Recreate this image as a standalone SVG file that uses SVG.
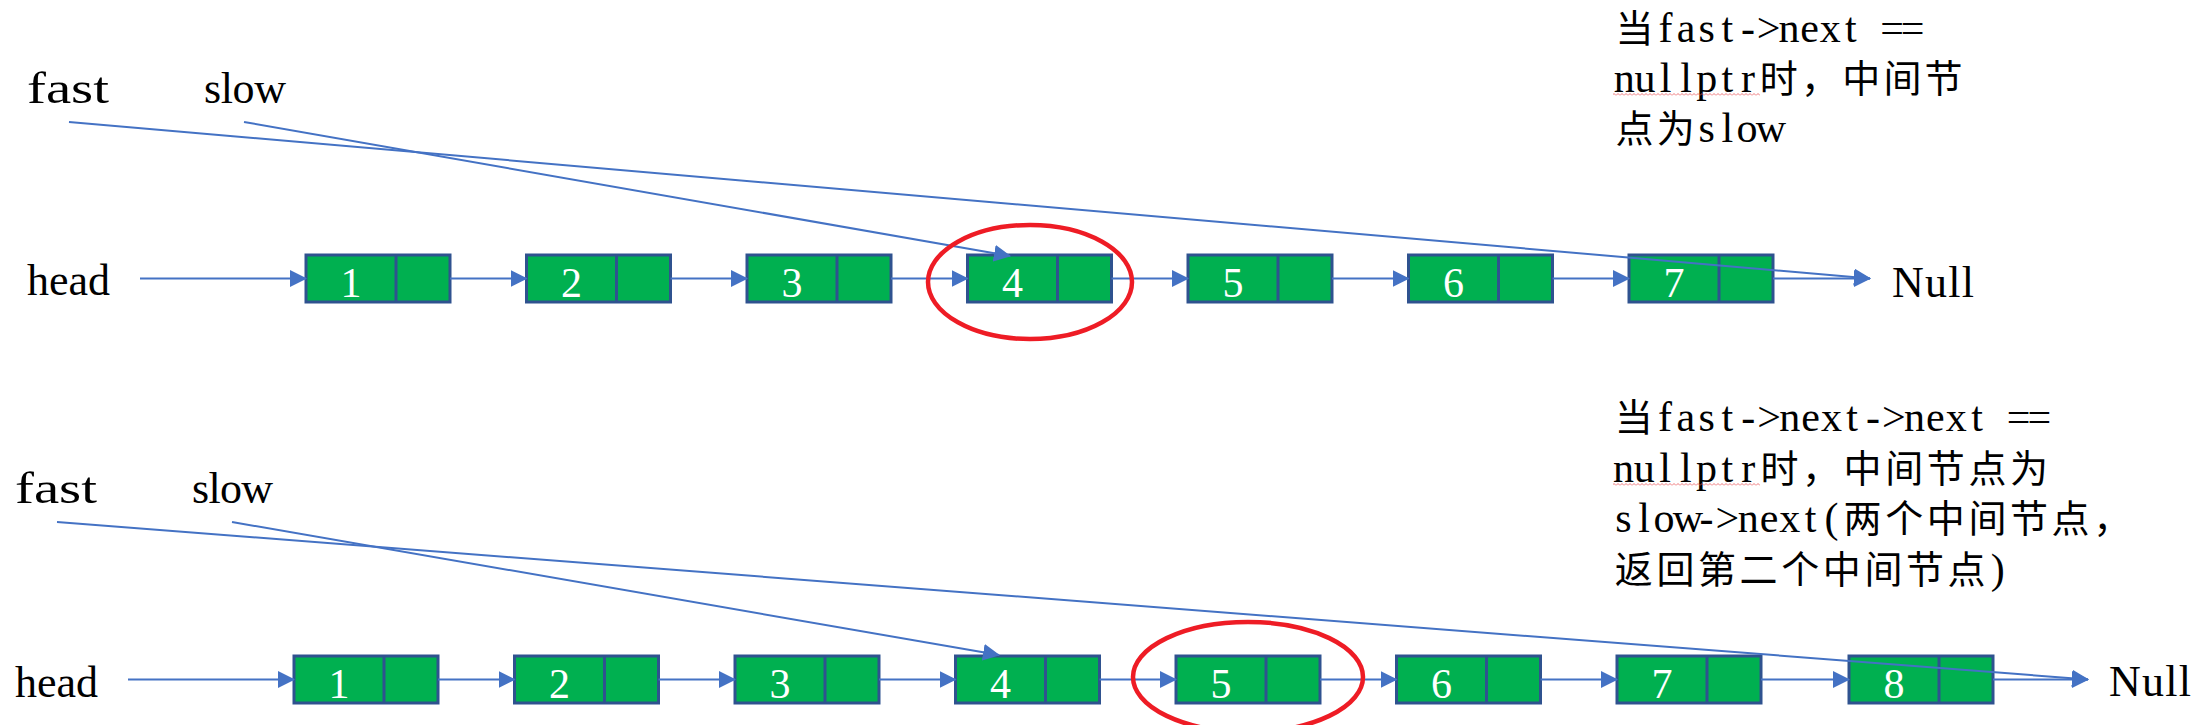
<svg xmlns="http://www.w3.org/2000/svg" width="2197" height="725" viewBox="0 0 2197 725">
<style>
.cell{fill:#00B050;stroke:#2F528F;stroke-width:3}
.dv{stroke:#2F528F;stroke-width:3}
.num{font-family:"Liberation Serif",serif;font-size:42px;fill:#fff;text-anchor:middle}
.lbl{font-family:"Liberation Serif",serif;font-size:44px;fill:#000}
.note{font-family:"Liberation Serif","Noto Sans CJK SC",serif;font-size:38px;fill:#000;text-anchor:middle}
.lat{font-size:42px}
.conn{stroke:#4472C4;stroke-width:2;fill:none;marker-end:url(#ah)}
.ring{fill:none;stroke:#EE1C25;stroke-width:4.5}
</style>
<defs>
<marker id="ah" markerUnits="userSpaceOnUse" markerWidth="17" markerHeight="17" viewBox="0 0 17 17" refX="16" refY="8.5" orient="auto">
<path d="M0,0 L17,8.5 L0,17 z" fill="#4472C4"/>
</marker>
<pattern id="squig" patternUnits="userSpaceOnUse" x="0" y="0" width="4" height="3">
<path d="M0,2.5 L2,0.5 L4,2.5" fill="none" stroke="#E8555A" stroke-width="0.8"/>
</pattern>
</defs>
<rect width="2197" height="725" fill="#fff"/>

<!-- labels top -->
<g id="labels-top">
<text class="lbl" x="27" y="103" textLength="82" lengthAdjust="spacingAndGlyphs">fast</text>
<text class="lbl" x="204" y="103" textLength="82">slow</text>
<text class="lbl" x="27" y="295" textLength="83">head</text>
<text class="lbl" x="1892" y="297" textLength="82">Null</text>
</g>
<g id="note-top">
<text class="note" y="42" x="1634.6 1665.5 1686.1 1706.7 1727.3 1747.9 1768.5 1789.1 1809.7 1830.3 1850.9 1871.5 1892.1 1912.7">当<tspan class="lat">fast-&gt;next ==</tspan></text>
<text class="note" y="92" x="1624.3 1644.9 1665.5 1686.1 1706.7 1727.3 1747.9 1778.8 1820.0 1861.2 1902.4 1943.6"><tspan class="lat">nullptr</tspan>时，中间节</text>
<text class="note" y="142" x="1634.6 1675.8 1706.7 1727.3 1747.0 1771.0">点为<tspan class="lat">slow</tspan></text>
<rect x="1613" y="93" width="147" height="3" fill="url(#squig)"/>
</g>

<!-- labels bottom -->
<g id="labels-bottom">
<text class="lbl" x="15" y="503" textLength="82" lengthAdjust="spacingAndGlyphs">fast</text>
<text class="lbl" x="192" y="503" textLength="81">slow</text>
<text class="lbl" x="15" y="697" textLength="83">head</text>
<text class="lbl" x="2109" y="696" textLength="82">Null</text>
</g>
<g id="note-bottom">
<text class="note" y="431" x="1633.8 1665.0 1685.8 1706.6 1727.4 1748.2 1769.0 1789.8 1810.6 1831.4 1852.2 1873.0 1893.8 1914.6 1935.4 1956.2 1977.0 1997.8 2018.6 2039.4">当<tspan class="lat">fast-&gt;next-&gt;next ==</tspan></text>
<text class="note" y="481.5" x="1623.4 1644.2 1665.0 1685.8 1706.6 1727.4 1748.2 1779.4 1821.0 1862.6 1904.2 1945.8 1987.4 2029.0"><tspan class="lat">nullptr</tspan>时，中间节点为</text>
<text class="note" y="532" x="1623.4 1644.2 1664.0 1688.0 1706.6 1727.4 1748.2 1769.0 1789.8 1810.6 1831.4 1862.6 1904.2 1945.8 1987.4 2029.0 2070.6 2112.2"><tspan class="lat">slow-&gt;next(</tspan>两个中间节点，</text>
<text class="note" y="582.5" x="1633.8 1675.4 1717.0 1758.6 1800.2 1841.8 1883.4 1925.0 1966.6 1997.8">返回第二个中间节点<tspan class="lat">)</tspan></text>
<rect x="1613" y="483" width="147" height="3" fill="url(#squig)"/>
</g>

<!-- top list nodes -->
<g id="t1"><rect class="cell" x="306" y="255" width="144" height="47"/><line class="dv" x1="396" y1="255" x2="396" y2="302"/><text class="num" x="351" y="297">1</text></g>
<g id="t2"><rect class="cell" x="526.5" y="255" width="144" height="47"/><line class="dv" x1="616.5" y1="255" x2="616.5" y2="302"/><text class="num" x="571.5" y="297">2</text></g>
<g id="t3"><rect class="cell" x="747" y="255" width="144" height="47"/><line class="dv" x1="837" y1="255" x2="837" y2="302"/><text class="num" x="792" y="297">3</text></g>
<g id="t4"><rect class="cell" x="967.5" y="255" width="144" height="47"/><line class="dv" x1="1057.5" y1="255" x2="1057.5" y2="302"/><text class="num" x="1012.5" y="297">4</text></g>
<g id="t5"><rect class="cell" x="1188" y="255" width="144" height="47"/><line class="dv" x1="1278" y1="255" x2="1278" y2="302"/><text class="num" x="1233" y="297">5</text></g>
<g id="t6"><rect class="cell" x="1408.5" y="255" width="144" height="47"/><line class="dv" x1="1498.5" y1="255" x2="1498.5" y2="302"/><text class="num" x="1453.5" y="297">6</text></g>
<g id="t7"><rect class="cell" x="1629" y="255" width="144" height="47"/><line class="dv" x1="1719" y1="255" x2="1719" y2="302"/><text class="num" x="1674" y="297">7</text></g>

<!-- bottom list nodes -->
<g id="b1"><rect class="cell" x="294" y="656" width="144" height="47"/><line class="dv" x1="384" y1="656" x2="384" y2="703"/><text class="num" x="339" y="698">1</text></g>
<g id="b2"><rect class="cell" x="514.5" y="656" width="144" height="47"/><line class="dv" x1="604.5" y1="656" x2="604.5" y2="703"/><text class="num" x="559.5" y="698">2</text></g>
<g id="b3"><rect class="cell" x="735" y="656" width="144" height="47"/><line class="dv" x1="825" y1="656" x2="825" y2="703"/><text class="num" x="780" y="698">3</text></g>
<g id="b4"><rect class="cell" x="955.5" y="656" width="144" height="47"/><line class="dv" x1="1045.5" y1="656" x2="1045.5" y2="703"/><text class="num" x="1000.5" y="698">4</text></g>
<g id="b5"><rect class="cell" x="1176" y="656" width="144" height="47"/><line class="dv" x1="1266" y1="656" x2="1266" y2="703"/><text class="num" x="1221" y="698">5</text></g>
<g id="b6"><rect class="cell" x="1396.5" y="656" width="144" height="47"/><line class="dv" x1="1486.5" y1="656" x2="1486.5" y2="703"/><text class="num" x="1441.5" y="698">6</text></g>
<g id="b7"><rect class="cell" x="1617" y="656" width="144" height="47"/><line class="dv" x1="1707" y1="656" x2="1707" y2="703"/><text class="num" x="1662" y="698">7</text></g>
<g id="b8"><rect class="cell" x="1849" y="656" width="144" height="47"/><line class="dv" x1="1939" y1="656" x2="1939" y2="703"/><text class="num" x="1894" y="698">8</text></g>

<!-- connectors -->
<g id="connectors">
<line class="conn" x1="140" y1="278.5" x2="306" y2="278.5"/>
<line class="conn" x1="450" y1="278.5" x2="526.5" y2="278.5"/>
<line class="conn" x1="670.5" y1="278.5" x2="747" y2="278.5"/>
<line class="conn" x1="891" y1="278.5" x2="967.5" y2="278.5"/>
<line class="conn" x1="1111.5" y1="278.5" x2="1188" y2="278.5"/>
<line class="conn" x1="1332" y1="278.5" x2="1408.5" y2="278.5"/>
<line class="conn" x1="1552.5" y1="278.5" x2="1629" y2="278.5"/>
<line class="conn" x1="1773" y1="278.5" x2="1870" y2="278.5"/>
<line class="conn" x1="244" y1="122" x2="1010" y2="256"/>
<line class="conn" x1="69" y1="122" x2="1870" y2="278.5"/>

<line class="conn" x1="128" y1="679.5" x2="294" y2="679.5"/>
<line class="conn" x1="438" y1="679.5" x2="514.5" y2="679.5"/>
<line class="conn" x1="658.5" y1="679.5" x2="735" y2="679.5"/>
<line class="conn" x1="879" y1="679.5" x2="955.5" y2="679.5"/>
<line class="conn" x1="1099.5" y1="679.5" x2="1176" y2="679.5"/>
<line class="conn" x1="1320" y1="679.5" x2="1396.5" y2="679.5"/>
<line class="conn" x1="1540.5" y1="679.5" x2="1617" y2="679.5"/>
<line class="conn" x1="1761" y1="679.5" x2="1849" y2="679.5"/>
<line class="conn" x1="1993" y1="679.5" x2="2088" y2="679.5"/>
<line class="conn" x1="232" y1="522" x2="999" y2="655"/>
<line class="conn" x1="57" y1="522" x2="2088" y2="679.5"/>
</g>

<!-- highlight rings -->
<g id="rings">
<ellipse class="ring" cx="1030" cy="282" rx="102" ry="57"/>
<ellipse class="ring" cx="1248" cy="677" rx="115" ry="55"/>
</g>
</svg>
